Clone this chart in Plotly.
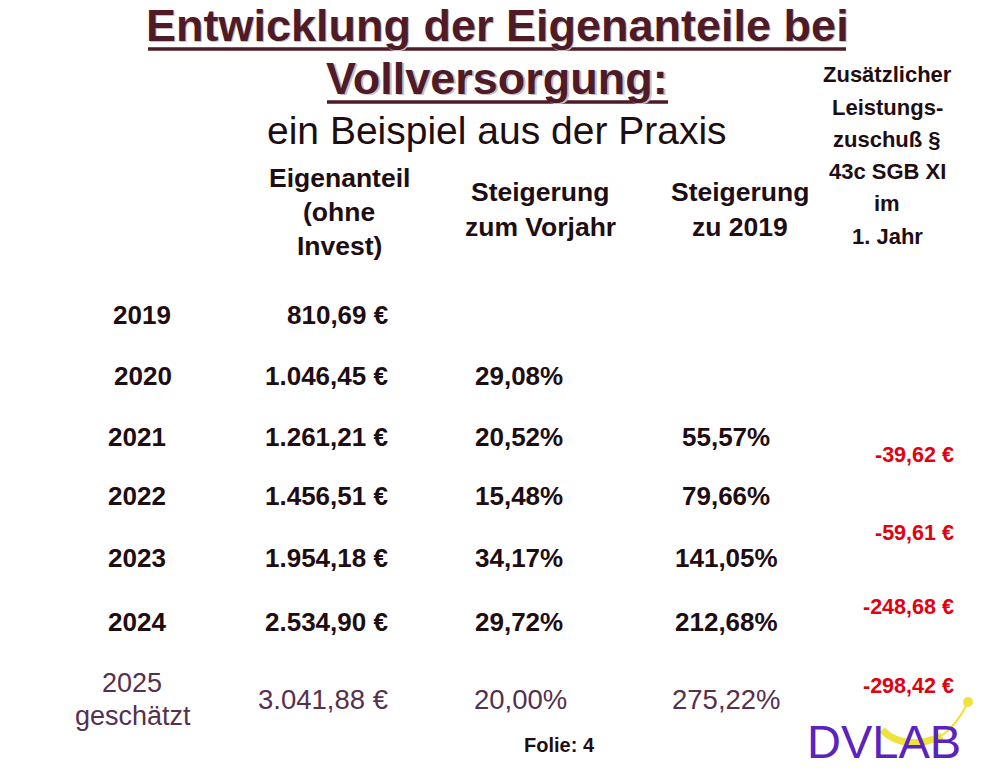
import plotly.graph_objects as go

W, H = 1000, 775

# ---- Daten ----
jahre = ["2019", "2020", "2021", "2022", "2023", "2024"]
eigenanteil = ["810,69 €", "1.046,45 €", "1.261,21 €", "1.456,51 €", "1.954,18 €", "2.534,90 €"]
vorjahr = ["", "29,08%", "20,52%", "15,48%", "34,17%", "29,72%"]
zu_2019 = ["", "", "55,57%", "79,66%", "141,05%", "212,68%"]

prognose_jahr = ["2025", "geschätzt"]
prognose_eigenanteil = "3.041,88 €"
prognose_vorjahr = "20,00%"
prognose_zu_2019 = "275,22%"

zuschuss = ["-39,62 €", "-59,61 €", "-248,68 €", "-298,42 €"]

kopf_eigenanteil = ["Eigenanteil", "(ohne", "Invest)"]
kopf_vorjahr = ["Steigerung", "zum Vorjahr"]
kopf_zu_2019 = ["Steigerung", "zu 2019"]
kopf_zuschuss = ["Zusätzlicher", "Leistungs-", "zuschuß §", "43c SGB XI", "im", "1. Jahr"]

titel = ["Entwicklung der Eigenanteile bei", "Vollversorgung:"]
untertitel = "ein Beispiel aus der Praxis"
folie = "Folie: 4"
logo = "DVLAB"

# ---- Layout (Pixelpositionen der Vorlage) ----
zeilen_y = [315, 376, 437, 496, 558, 622]
jahr_x = [142, 143, 137, 137, 137, 137]
zuschuss_y = [455, 533, 607, 686]

FONT = "Liberation Sans, Arial, sans-serif"
DUNKEL = "#1e0d12"
TITEL = "#4e1b27"
LILA = "#55304f"
ROT = "#e3000f"
GELB = "#f0e23c"
VIOLETT = "#5a22c0"

OFF = 8  # Seitenrand des HTML-Bodys


def px(x):
    return (x - OFF) / W


def py(y):
    return 1 - (y - OFF) / H


ann = []


def txt(x, y, text, size, color=DUNKEL, bold=True, xanchor="center"):
    t = f"<b>{text}</b>" if bold else text
    ann.append(dict(x=px(x), y=py(y), xref="paper", yref="paper", text=t,
                    showarrow=False, xanchor=xanchor, yanchor="middle",
                    align="center", font=dict(family=FONT, size=size, color=color)))


def block(x, y0, lines, step, size, color=DUNKEL, bold=True):
    for k, line in enumerate(lines):
        txt(x, y0 + k * step, line, size, color, bold)


# Titel mit leichtem Schatten
for d, col in [(1.5, "#cbbfc2"), (0, TITEL)]:
    txt(497 + d, 25 + d, titel[0], 45, col)
    txt(497 + d, 78 + d, titel[1], 45, col)
txt(497, 130, untertitel, 39, DUNKEL, bold=False)

# Spaltenköpfe
block(339, 178, kopf_eigenanteil, 34, 26.5)
block(540, 192, kopf_vorjahr, 35, 26.5)
block(740, 192, kopf_zu_2019, 35, 26.5)
block(887, 75, kopf_zuschuss, 32.2, 22)

# Tabellenzeilen
for i, jahr in enumerate(jahre):
    y = zeilen_y[i]
    txt(jahr_x[i], y, jahr, 26)
    txt(390, y, eigenanteil[i], 26, xanchor="right")
    if vorjahr[i]:
        txt(519, y, vorjahr[i], 26)
    if zu_2019[i]:
        txt(726, y, zu_2019[i], 26)

# Prognose 2025
txt(132, 683, prognose_jahr[0], 27, LILA, bold=False)
txt(133, 716, prognose_jahr[1], 27, LILA, bold=False)
txt(390, 699, prognose_eigenanteil, 27.5, LILA, bold=False, xanchor="right")
txt(520, 699, prognose_vorjahr, 27.5, LILA, bold=False)
txt(726, 699, prognose_zu_2019, 27.5, LILA, bold=False)

# Leistungszuschuss
for val, y in zip(zuschuss, zuschuss_y):
    txt(956, y, val, 21.5, ROT, xanchor="right")

txt(559, 745, folie, 20)

# Logo
txt(884, 741, logo, 47, VIOLETT, bold=False)

shapes = [
    dict(type="line", xref="paper", yref="paper", x0=px(148), x1=px(846),
         y0=py(49), y1=py(49), line=dict(color=TITEL, width=3.5)),
    dict(type="line", xref="paper", yref="paper", x0=px(327), x1=px(668),
         y0=py(102), y1=py(102), line=dict(color=TITEL, width=3.5)),
    # gelber Bogen und Punkt im Logo
    dict(type="path", xref="paper", yref="paper",
         path=f"M {px(882)},{py(730)} Q {px(905)},{py(752)} {px(942)},{py(736)}",
         line=dict(color=GELB, width=7)),
    dict(type="path", xref="paper", yref="paper",
         path=f"M {px(940)},{py(737)} Q {px(957)},{py(725)} {px(967)},{py(704)}",
         line=dict(color=GELB, width=2)),
    dict(type="circle", xref="paper", yref="paper", x0=px(963), x1=px(973),
         y0=py(697), y1=py(707), fillcolor=GELB, line=dict(width=0)),
]

fig = go.Figure()
fig.update_layout(
    width=W, height=H,
    margin=dict(l=0, r=0, t=0, b=0),
    paper_bgcolor="white", plot_bgcolor="white",
    xaxis=dict(visible=False, range=[0, 1]),
    yaxis=dict(visible=False, range=[0, 1]),
    annotations=ann,
    shapes=shapes,
    showlegend=False,
)

fig.write_html("out.html")
